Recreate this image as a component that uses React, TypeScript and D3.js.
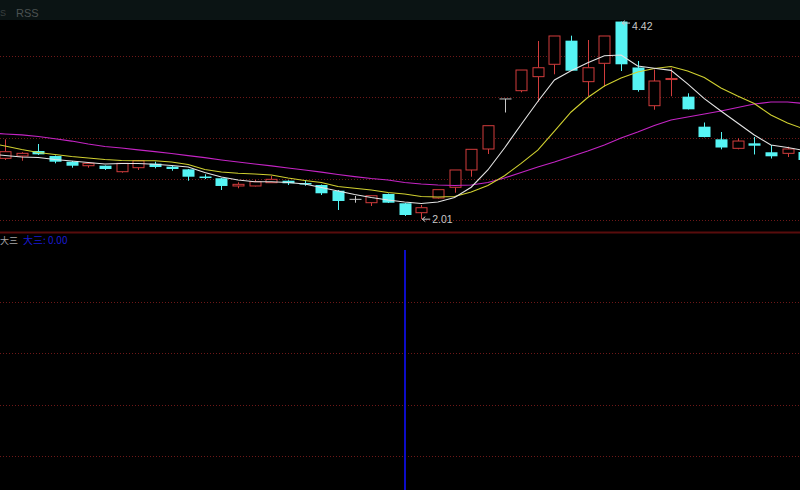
import React from 'react';
import * as d3 from 'd3';

const W = 800;
const H = 490;

// Candles (price units), index 0..48
const opens = [2.752, 2.780, 2.841, 2.780, 2.711, 2.662, 2.662, 2.589, 2.638, 2.687, 2.650, 2.618, 2.530, 2.509, 2.415, 2.415, 2.455, 2.479, 2.451, 2.427, 2.357, 2.252, 2.211, 2.317, 2.204, 2.089, 2.268, 2.399, 2.610, 2.866, 3.476, 3.577, 3.748, 3.899, 4.187, 3.687, 3.911, 4.42, 3.860, 3.394, 3.713, 3.504, 3.138, 2.984, 2.874, 2.935, 2.826, 2.813, 2.829];
const highs = [2.984, 2.826, 2.927, 2.787, 2.720, 2.704, 2.665, 2.695, 2.732, 2.711, 2.662, 2.622, 2.557, 2.512, 2.460, 2.488, 2.537, 2.484, 2.488, 2.433, 2.366, 2.293, 2.299, 2.323, 2.207, 2.183, 2.372, 2.610, 2.862, 3.152, 3.476, 3.829, 4.183, 4.244, 4.248, 4.195, 4.244, 4.42, 3.939, 3.835, 3.850, 3.545, 3.189, 3.073, 2.996, 3.012, 2.915, 2.894, 2.835];
const lows = [2.732, 2.723, 2.793, 2.691, 2.638, 2.638, 2.610, 2.577, 2.610, 2.630, 2.601, 2.479, 2.500, 2.366, 2.387, 2.409, 2.451, 2.427, 2.418, 2.305, 2.122, 2.211, 2.171, 2.207, 2.049, 2.01, 2.262, 2.333, 2.528, 2.805, 3.311, 3.557, 3.443, 3.777, 3.821, 3.512, 3.626, 3.817, 3.565, 3.345, 3.509, 3.348, 3.008, 2.862, 2.862, 2.799, 2.750, 2.768, 2.720];
const closes = [2.833, 2.813, 2.801, 2.711, 2.662, 2.691, 2.622, 2.691, 2.723, 2.646, 2.622, 2.528, 2.524, 2.415, 2.435, 2.467, 2.496, 2.448, 2.443, 2.326, 2.232, 2.252, 2.296, 2.211, 2.061, 2.150, 2.370, 2.610, 2.862, 3.150, 3.476, 3.829, 3.857, 4.244, 3.821, 3.857, 4.244, 3.899, 3.585, 3.695, 3.726, 3.350, 3.012, 2.884, 2.963, 2.906, 2.777, 2.866, 2.732];

// Moving averages, index -1..48 (first value is the bar just left of the view)
const ma5 = [2.805, 2.787, 2.768, 2.762, 2.738, 2.720, 2.701, 2.683, 2.689, 2.689, 2.679, 2.665, 2.646, 2.579, 2.524, 2.488, 2.467, 2.467, 2.457, 2.439, 2.396, 2.354, 2.311, 2.274, 2.244, 2.220, 2.201, 2.220, 2.274, 2.400, 2.610, 2.878, 3.165, 3.445, 3.707, 3.820, 3.918, 4.003, 4.012, 3.879, 3.850, 3.825, 3.660, 3.480, 3.329, 3.183, 3.037, 2.915, 2.884, 2.848];
const ma10 = [2.945, 2.902, 2.860, 2.823, 2.799, 2.774, 2.756, 2.738, 2.726, 2.723, 2.723, 2.707, 2.677, 2.616, 2.585, 2.570, 2.561, 2.549, 2.512, 2.482, 2.457, 2.409, 2.387, 2.366, 2.335, 2.317, 2.287, 2.280, 2.287, 2.341, 2.422, 2.540, 2.690, 2.852, 3.085, 3.317, 3.494, 3.634, 3.732, 3.805, 3.848, 3.872, 3.817, 3.738, 3.610, 3.512, 3.421, 3.280, 3.183, 3.110];
const ma20 = [3.061, 3.049, 3.037, 3.018, 2.991, 2.963, 2.927, 2.896, 2.878, 2.856, 2.835, 2.811, 2.786, 2.760, 2.732, 2.707, 2.683, 2.659, 2.634, 2.610, 2.583, 2.555, 2.530, 2.506, 2.488, 2.457, 2.439, 2.427, 2.421, 2.427, 2.457, 2.512, 2.579, 2.646, 2.707, 2.774, 2.841, 2.915, 3.000, 3.073, 3.152, 3.220, 3.256, 3.293, 3.329, 3.372, 3.415, 3.439, 3.439, 3.421];

// Lower indicator signal (0/1 per bar)
const signal = [0, 0, 0, 0, 0, 0, 0, 0, 0, 0, 0, 0, 0, 0, 0, 0, 0, 0, 0, 0, 0, 0, 0, 0, 1, 0, 0, 0, 0, 0, 0, 0, 0, 0, 0, 0, 0, 0, 0, 0, 0, 0, 0, 0, 0, 0, 0, 0, 0];

const priceTicks = [2, 2.5, 3, 3.5, 4];
const signalTicks = [0.2, 0.4, 0.6, 0.8];
const highLabel = '4.42';
const lowLabel = '2.01';
const headerText = 'RSS';
const indName = '大三';
const indValueText = '大三: 0.00';

const RED = '#d23c3c';
const CYAN = '#56f4f4';
const GRAY = '#c8c8c8';
const GRID = '#6e1818';
const FONT = '"Liberation Sans", Arial, sans-serif';
const CJK = '"Noto Sans CJK SC", "Liberation Sans", sans-serif';

export default function App() {
  const x = d3.scaleLinear().domain([0, 48]).range([5, 804.2]);
  const y = d3.scaleLinear().domain([2, 4]).range([220, 56]);
  const yb = d3.scaleLinear().domain([0, 1]).range([508, 250]);

  const mkLine = (arr: number[]) =>
    d3.line<number>().x((_, i) => x(i - 1)).y((d) => y(d)).curve(d3.curveLinear)(arr) || '';

  const hiIdx = highs.indexOf(d3.max(highs) as number);
  const loIdx = lows.indexOf(d3.min(lows) as number);

  return (
    <svg width={W} height={H} style={{ position: 'fixed', left: 0, top: 0, background: '#000' }}>
      <defs>
        <clipPath id="main"><rect x={0} y={20} width={W} height={211} /></clipPath>
        <clipPath id="low"><rect x={0} y={234} width={W} height={H - 234} /></clipPath>
      </defs>
      <rect x={0} y={0} width={W} height={H} fill="#000" />
      {/* header */}
      <rect x={0} y={0} width={W} height={20} fill="#0b1414" />
      <text x={0} y={16} fill="#3a4040" fontSize={9} fontFamily={FONT}>S</text>
      <text x={16} y={16.5} fill="#4c5252" fontSize={11} fontFamily={FONT}>{headerText}</text>

      {/* price grid */}
      {priceTicks.map((t) => (
        <line key={t} x1={0} x2={W} y1={Math.round(y(t)) + 0.5} y2={Math.round(y(t)) + 0.5}
          stroke={GRID} strokeDasharray="1,2" strokeWidth={1} />
      ))}

      <g clipPath="url(#main)">
        {closes.map((c, i) => {
          const o = opens[i], h = highs[i], l = lows[i];
          const cx = Math.round(x(i)) + 0.5;
          const flat = Math.abs(c - o) < 1e-9;
          const up = c > o;
          const color = flat ? GRAY : up ? RED : CYAN;
          const top = y(Math.max(o, c));
          const bot = y(Math.min(o, c));
          if (flat) {
            return (
              <g key={i}>
                <line x1={cx} x2={cx} y1={y(h)} y2={y(l)} stroke={color} />
                <line x1={cx - 6} x2={cx + 6} y1={top} y2={top} stroke={color} />
              </g>
            );
          }
          if (up) {
            return (
              <g key={i}>
                <line x1={cx} x2={cx} y1={y(h)} y2={top} stroke={color} />
                <line x1={cx} x2={cx} y1={bot} y2={y(l)} stroke={color} />
                <rect x={cx - 5.5} y={top} width={11} height={Math.max(1, bot - top)} fill="#000" stroke={color} strokeWidth={1} />
              </g>
            );
          }
          return (
            <g key={i}>
              <line x1={cx} x2={cx} y1={y(h)} y2={y(l)} stroke={color} />
              <rect x={cx - 6} y={top} width={12} height={Math.max(1.5, bot - top)} fill={color} />
            </g>
          );
        })}
        <path d={mkLine(ma20)} fill="none" stroke="#c424c4" strokeWidth={1.2} />
        <path d={mkLine(ma10)} fill="none" stroke="#d0d030" strokeWidth={1.1} />
        <path d={mkLine(ma5)} fill="none" stroke="#e4e4e4" strokeWidth={1.1} />
      </g>

      {/* high / low markers */}
      <g fill="#c8c8c8" stroke="#c8c8c8" fontFamily={FONT} fontSize={10.5}>
        <path d={`M${x(hiIdx) + 1},${y(highs[hiIdx]) + 1.5}h8 M${x(hiIdx) + 1},${y(highs[hiIdx]) + 1.5}l3,-2.5 M${x(hiIdx) + 1},${y(highs[hiIdx]) + 1.5}l3,2.5`} fill="none" strokeWidth={1} />
        <text x={x(hiIdx) + 11} y={y(highs[hiIdx]) + 8.5} stroke="none">{highLabel}</text>
        <path d={`M${x(loIdx) + 1},${y(lows[loIdx])}h8 M${x(loIdx) + 1},${y(lows[loIdx])}l3,-2.5 M${x(loIdx) + 1},${y(lows[loIdx])}l3,2.5`} fill="none" strokeWidth={1} />
        <text x={x(loIdx) + 11} y={y(lows[loIdx]) + 4} stroke="none">{lowLabel}</text>
      </g>

      {/* separator */}
      <line x1={0} x2={W} y1={232.5} y2={232.5} stroke="#580c0c" strokeWidth={2} />

      {/* lower panel */}
      {signalTicks.map((t) => (
        <line key={t} x1={0} x2={W} y1={Math.round(yb(t)) + 0.5} y2={Math.round(yb(t)) + 0.5}
          stroke={GRID} strokeDasharray="1,2" strokeWidth={1} />
      ))}
      <g clipPath="url(#low)">
        {signal.map((s, i) => s > 0 ? (
          <line key={i} x1={Math.round(x(i))} x2={Math.round(x(i))} y1={yb(0)} y2={yb(s)} stroke="#0c0cc8" strokeWidth={2} />
        ) : null)}
      </g>
      <text x={0} y={244} fill="#a8a8a8" fontSize={9} fontFamily={CJK}>{indName}</text>
      <text x={23} y={244} fill="#1a1ad0" fontSize={10} fontFamily={CJK}>{indValueText}</text>
    </svg>
  );
}
